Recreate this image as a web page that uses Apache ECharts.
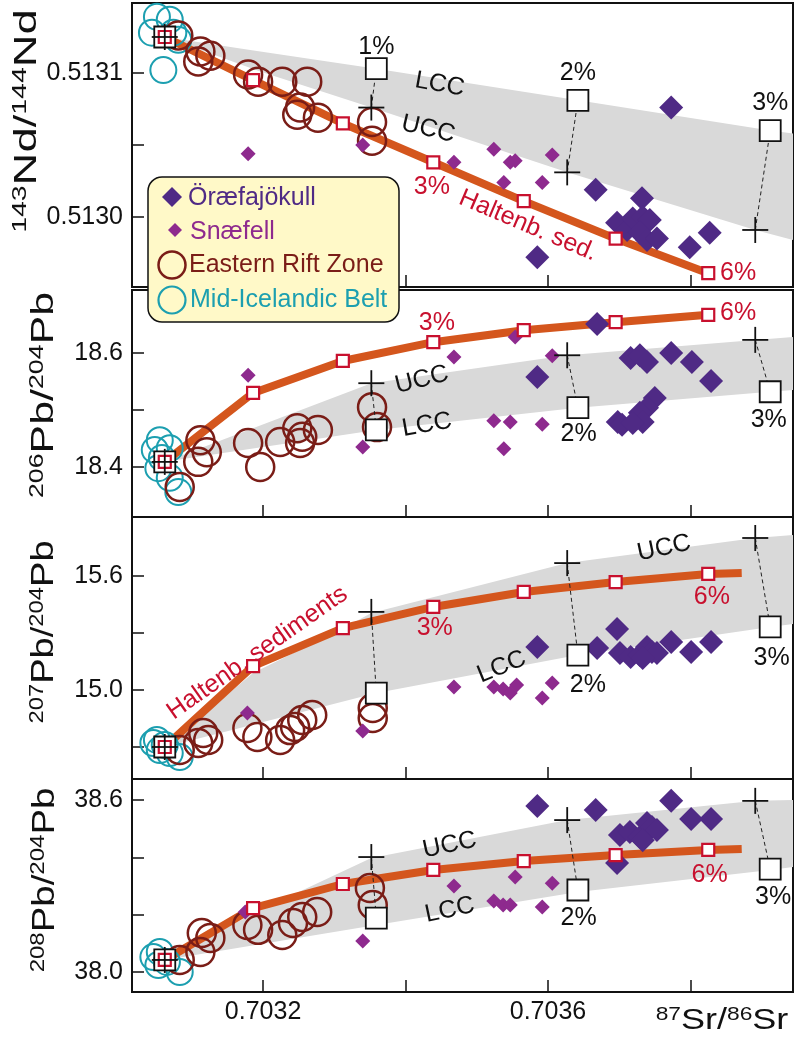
<!DOCTYPE html>
<html><head><meta charset="utf-8">
<script src="https://cdn.jsdelivr.net/npm/echarts@6/dist/echarts.min.js"></script>
<style>html,body{margin:0;padding:0;background:#fff}#c{width:796px;height:1043px}</style>
</head><body><div id="c"></div>
<script>
// ================= DATA =================
// shared x axis: 87Sr/86Sr
const X_MIN = 0.703016, X_MAX = 0.703944;
const xTicks = [0.7032, 0.7034, 0.7036, 0.7038];
const xTickLabels = [0.7032, 0.7036];

// Haltenbanken sediment mixing curve (0..6 %), UCC and LCC mixing (0..3 %)
const haltenX = [0.703062, 0.703186, 0.703312, 0.703439, 0.703566, 0.703695, 0.703825];
const haltenEndX = 0.703872;
const uccX = [0.703062, 0.703352, 0.703627, 0.703891];
const lccX = [0.703062, 0.703359, 0.703642, 0.703912];

// ---- Panel 1: 143Nd/144Nd ----
const ndRange = [0.5129514, 0.5131486];
const ndTicks = [0.5130, 0.51305, 0.5131];
const ndLabels = [0.5130, 0.5131];
const ndHalten = [0.513125, 0.513095, 0.513065, 0.513038, 0.513011, 0.512985, 0.512961];
const ndUcc = [0.513125, 0.513076, 0.513031, 0.512991];
const ndLcc = [0.513125, 0.513103, 0.513081, 0.513060];
const ndBandUpX = [0.703062, 0.703182, 0.703359, 0.703642, 0.703912, 0.703944];
const ndBandUpY = [0.513125, 0.513116, 0.513103, 0.513081, 0.513060, 0.513058];
const ndBandLoX = [0.703062, 0.703196, 0.703352, 0.703627, 0.703891, 0.703944];
const ndBandLoY = [0.513125, 0.513101, 0.513076, 0.513031, 0.512991, 0.512984];
const ndMIB = [[0.703051,0.513139],[0.703069,0.513137],[0.703044,0.513128],[0.703074,0.513128],[0.703081,0.513123],[0.703060,0.513102]];
const ndERZ = [[0.703081,0.513126],[0.703112,0.513115],[0.703109,0.513108],[0.703126,0.513112],[0.703179,0.513099],[0.703193,0.513094],[0.703227,0.513094],[0.703262,0.513094],[0.703252,0.513076],[0.703248,0.513071],[0.703277,0.513069],[0.703353,0.513066],[0.703353,0.513053]];
const ndSNA = [[0.703179,0.513044],[0.703340,0.513050],[0.703468,0.513038],[0.703524,0.513047],[0.703547,0.513038],[0.703554,0.513039],[0.703538,0.513024],[0.703592,0.513024],[0.703606,0.513043]];
const ndORA = [[0.703773,0.513076],[0.703667,0.513019],[0.703585,0.512972],[0.703732,0.513013],[0.703697,0.512996],[0.703711,0.512991],[0.703719,0.512999],[0.703733,0.513000],[0.703743,0.512998],[0.703729,0.512989],[0.703739,0.512984],[0.703753,0.512985],[0.703799,0.512979],[0.703827,0.512989]];
const ndNotes = [
  ['1%', 0.703359, 0.513118, 0, 'k'], ['2%', 0.703642, 0.513100, 0, 'k'], ['3%', 0.703912, 0.513079, 0, 'k'],
  ['LCC', 0.703448, 0.513092, -10, 'k'], ['UCC', 0.703432, 0.513061, -13, 'k'],
  ['3%', 0.703437, 0.513021, 0, 'r'], ['Haltenb. sed.', 0.703572, 0.512994, -23, 'r'], ['6%', 0.703867, 0.512961, 0, 'r']
];

// ---- Panel 2: 206Pb/204Pb ----
const pb6Range = [18.3123, 18.7105];
const pb6Ticks = [18.4, 18.5, 18.6];
const pb6Labels = [18.4, 18.6];
const pb6Halten = [18.409, 18.530, 18.586, 18.619, 18.640, 18.654, 18.667];
const pb6Ucc = [18.409, 18.547, 18.596, 18.623];
const pb6Lcc = [18.409, 18.465, 18.504, 18.532];
const pb6BandUpX = [0.703062, 0.703352, 0.703627, 0.703891, 0.703944];
const pb6BandUpY = [18.409, 18.547, 18.596, 18.623, 18.628];
const pb6BandLoX = [0.703062, 0.703359, 0.703642, 0.703912, 0.703944];
const pb6BandLoY = [18.409, 18.465, 18.504, 18.532, 18.535];
const pb6MIB = [[0.703055,18.447],[0.703048,18.430],[0.703069,18.433],[0.703058,18.416],[0.703053,18.398],[0.703069,18.381],[0.703081,18.356]];
const pb6ERZ = [[0.703112,18.447],[0.703121,18.426],[0.703109,18.409],[0.703083,18.365],[0.703179,18.442],[0.703196,18.400],[0.703224,18.444],[0.703248,18.468],[0.703255,18.453],[0.703252,18.442],[0.703277,18.465],[0.703353,18.505],[0.703360,18.470]];
const pb6SNA = [[0.703179,18.561],[0.703340,18.435],[0.703468,18.593],[0.703554,18.628],[0.703606,18.595],[0.703524,18.481],[0.703547,18.479],[0.703538,18.432],[0.703592,18.475]];
const pb6ORA = [[0.703585,18.558],[0.703669,18.651],[0.703716,18.591],[0.703729,18.596],[0.703739,18.584],[0.703773,18.600],[0.703802,18.584],[0.703829,18.551],[0.703750,18.521],[0.703739,18.504],[0.703729,18.495],[0.703733,18.479],[0.703698,18.479],[0.703704,18.474],[0.703719,18.477]];
const pb6Notes = [
  ['3%', 0.703444, 18.653, 0, 'r'], ['6%', 0.703867, 18.670, 0, 'r'],
  ['UCC', 0.703423, 18.553, 14, 'k'], ['LCC', 0.703430, 18.474, 10, 'k'],
  ['2%', 0.703643, 18.458, 0, 'k'], ['3%', 0.703910, 18.482, 0, 'k']
];

// ---- Panel 3: 207Pb/204Pb ----
const pb7Range = [14.5316, 15.9105];
const pb7Ticks = [14.7, 15.0, 15.3, 15.6];
const pb7Labels = [15.0, 15.6];
const pb7Halten = [14.700, 15.126, 15.326, 15.437, 15.516, 15.568, 15.611];
const pb7HaltenEnd = 15.616;
const pb7Ucc = [14.700, 15.411, 15.668, 15.800];
const pb7Lcc = [14.700, 14.984, 15.184, 15.332];
const pb7BandUpX = [0.703062, 0.703186, 0.703308, 0.703352, 0.703627, 0.703891, 0.703944];
const pb7BandUpY = [14.700, 15.090, 15.316, 15.405, 15.668, 15.800, 15.816];
const pb7BandLoX = [0.703062, 0.703140, 0.703359, 0.703642, 0.703912, 0.703944];
const pb7BandLoY = [14.700, 14.774, 14.984, 15.184, 15.332, 15.347];
const pb7MIB = [[0.703046,14.721],[0.703055,14.684],[0.703069,14.668],[0.703051,14.737],[0.703083,14.647],[0.703062,14.711]];
const pb7ERZ = [[0.703116,14.774],[0.703123,14.737],[0.703109,14.721],[0.703083,14.684],[0.703178,14.800],[0.703192,14.753],[0.703224,14.737],[0.703245,14.805],[0.703255,14.842],[0.703269,14.868],[0.703238,14.789],[0.703354,14.905],[0.703354,14.853]];
const pb7SNA = [[0.703178,14.879],[0.703340,14.784],[0.703468,15.016],[0.703524,15.016],[0.703537,15.005],[0.703547,14.984],[0.703556,15.026],[0.703592,14.958],[0.703606,15.037]];
const pb7ORA = [[0.703585,15.226],[0.703669,15.221],[0.703697,15.321],[0.703701,15.195],[0.703716,15.174],[0.703729,15.184],[0.703739,15.226],[0.703746,15.200],[0.703753,15.195],[0.703773,15.253],[0.703801,15.200],[0.703829,15.253],[0.703733,15.168]];
const pb7Notes = [
  ['Haltenb. sediments', 0.703192, 15.195, 35, 'r'], ['3%', 0.703441, 15.326, 0, 'r'], ['6%', 0.703830, 15.489, 0, 'r'],
  ['UCC', 0.703763, 15.747, 12, 'k'], ['LCC', 0.703535, 15.121, 22, 'k'],
  ['2%', 0.703656, 15.026, 0, 'k'], ['3%', 0.703914, 15.168, 0, 'k']
];

// ---- Panel 4: 208Pb/204Pb ----
const pb8Range = [37.9302, 38.6733];
const pb8Ticks = [38.0, 38.2, 38.4, 38.6];
const pb8Labels = [38.0, 38.6];
const pb8Halten = [38.042, 38.223, 38.307, 38.356, 38.387, 38.408, 38.426];
const pb8HaltenEnd = 38.429;
const pb8Ucc = [38.042, 38.401, 38.530, 38.597];
const pb8Lcc = [38.042, 38.188, 38.286, 38.359];
const pb8BandUpX = [0.703062, 0.703196, 0.703352, 0.703627, 0.703891, 0.703944];
const pb8BandUpY = [38.042, 38.216, 38.398, 38.530, 38.597, 38.600];
const pb8BandLoX = [0.703062, 0.703359, 0.703642, 0.703912, 0.703944];
const pb8BandLoY = [38.042, 38.164, 38.279, 38.356, 38.366];
const pb8MIB = [[0.703046,38.052],[0.703055,38.070],[0.703065,38.035],[0.703083,38.000],[0.703053,38.024]];
const pb8ERZ = [[0.703114,38.136],[0.703126,38.119],[0.703112,38.070],[0.703083,38.042],[0.703178,38.164],[0.703193,38.147],[0.703227,38.129],[0.703242,38.171],[0.703255,38.192],[0.703276,38.209],[0.703350,38.293],[0.703354,38.234]];
const pb8SNA = [[0.703175,38.209],[0.703340,38.108],[0.703468,38.300],[0.703554,38.331],[0.703606,38.310],[0.703524,38.248],[0.703537,38.234],[0.703547,38.234],[0.703592,38.227]];
const pb8ORA = [[0.703585,38.579],[0.703667,38.565],[0.703773,38.597],[0.703801,38.534],[0.703829,38.534],[0.703697,38.380],[0.703701,38.478],[0.703715,38.488],[0.703729,38.471],[0.703739,38.520],[0.703746,38.506],[0.703753,38.495],[0.703733,38.460]];
const pb8Notes = [
  ['6%', 0.703827, 38.338, 0, 'r'], ['UCC', 0.703462, 38.443, 12, 'k'], ['LCC', 0.703462, 38.216, 12, 'k'],
  ['2%', 0.703643, 38.188, 0, 'k'], ['3%', 0.703916, 38.262, 0, 'k']
];

const legendNames = ['Öræfajökull', 'Snæfell', 'Eastern Rift Zone', 'Mid-Icelandic Belt'];

// ================= STYLE / BUILD =================
const FONT = '"Liberation Sans", Arial, Helvetica, sans-serif';
const ORANGE = '#D4561D', RED = '#C8102E', GREY = '#D9D9D9', INK = '#111111';
const C_ORA = '#4F2A85', C_SNA = '#8E2A8E', C_ERZ = '#7A1D17', C_MIB = '#1C9FB0';

const panels = [
  {range: ndRange, ticks: ndTicks, labels: ndLabels, dec: 4, halten: ndHalten, end: null, ucc: ndUcc, lcc: ndLcc,
   bux: ndBandUpX, buy: ndBandUpY, blx: ndBandLoX, bly: ndBandLoY, mib: ndMIB, erz: ndERZ, sna: ndSNA, ora: ndORA, notes: ndNotes},
  {range: pb6Range, ticks: pb6Ticks, labels: pb6Labels, dec: 1, halten: pb6Halten, end: null, ucc: pb6Ucc, lcc: pb6Lcc,
   bux: pb6BandUpX, buy: pb6BandUpY, blx: pb6BandLoX, bly: pb6BandLoY, mib: pb6MIB, erz: pb6ERZ, sna: pb6SNA, ora: pb6ORA, notes: pb6Notes},
  {range: pb7Range, ticks: pb7Ticks, labels: pb7Labels, dec: 1, halten: pb7Halten, end: pb7HaltenEnd, ucc: pb7Ucc, lcc: pb7Lcc,
   bux: pb7BandUpX, buy: pb7BandUpY, blx: pb7BandLoX, bly: pb7BandLoY, mib: pb7MIB, erz: pb7ERZ, sna: pb7SNA, ora: pb7ORA, notes: pb7Notes},
  {range: pb8Range, ticks: pb8Ticks, labels: pb8Labels, dec: 1, halten: pb8Halten, end: pb8HaltenEnd, ucc: pb8Ucc, lcc: pb8Lcc,
   bux: pb8BandUpX, buy: pb8BandUpY, blx: pb8BandLoX, bly: pb8BandLoY, mib: pb8MIB, erz: pb8ERZ, sna: pb8SNA, ora: pb8ORA, notes: pb8Notes}
];

const gridBoxes = [[3, 284], [290, 227], [517, 262], [779, 213]];
const grids = gridBoxes.map(g => ({left: 132, right: 3, top: g[0], height: g[1], show: true,
  borderColor: INK, borderWidth: 2, backgroundColor: 'transparent', containLabel: false, outerBoundsMode: 'none'}));

const xAxes = panels.map((p, i) => ({
  type: 'value', gridIndex: i, min: X_MIN, max: X_MAX,
  axisLine: {show: false}, splitLine: {show: false},
  axisTick: {show: true, inside: true, length: 12, customValues: xTicks, lineStyle: {color: INK, width: 1.5}},
  axisLabel: {show: i === 3, customValues: xTickLabels, formatter: v => v.toFixed(4), fontSize: 25,
    color: INK, fontFamily: FONT, margin: 8}
}));
const yAxes = panels.map((p, i) => ({
  type: 'value', gridIndex: i, min: p.range[0], max: p.range[1],
  axisLine: {show: false}, splitLine: {show: false},
  axisTick: {show: true, inside: true, length: 12, customValues: p.ticks, lineStyle: {color: INK, width: 1.5}},
  axisLabel: {show: true, customValues: p.labels, formatter: v => v.toFixed(p.dec), fontSize: 25,
    color: INK, fontFamily: FONT, margin: 9}
}));

const series = [];
panels.forEach((p, i) => {
  const ax = {xAxisIndex: i, yAxisIndex: i, silent: true, animation: false, emphasis: {disabled: true}};
  // gray UCC-LCC envelope
  series.push(Object.assign({type: 'custom', z: 1, data: [[p.bux[0], p.buy[0]]],
    renderItem: function (params, api) {
      const pts = [];
      for (let k = 0; k < p.bux.length; k++) pts.push(api.coord([p.bux[k], p.buy[k]]));
      for (let k = p.blx.length - 1; k >= 0; k--) pts.push(api.coord([p.blx[k], p.bly[k]]));
      return {type: 'polygon', shape: {points: pts}, style: {fill: GREY}};
    }}, ax));
  // Haltenbanken mixing line
  const hl = haltenX.map((x, k) => [x, p.halten[k]]);
  if (p.end !== null) hl.push([haltenEndX, p.end]);
  series.push(Object.assign({type: 'line', z: 2, data: hl, symbol: 'none',
    lineStyle: {color: ORANGE, width: 8, join: 'round', opacity: 1}}, ax));
  // sample groups
  series.push(Object.assign({type: 'scatter', name: legendNames[3], z: 3, data: p.mib, symbol: 'circle', symbolSize: 26,
    itemStyle: {color: 'rgba(0,0,0,0)', borderColor: C_MIB, borderWidth: 2, opacity: 1}}, ax));
  series.push(Object.assign({type: 'scatter', name: legendNames[2], z: 3, data: p.erz, symbol: 'circle', symbolSize: 28,
    itemStyle: {color: 'rgba(0,0,0,0)', borderColor: C_ERZ, borderWidth: 2.5, opacity: 1}}, ax));
  series.push(Object.assign({type: 'scatter', name: legendNames[1], z: 4, data: p.sna, symbol: 'diamond', symbolSize: 15,
    itemStyle: {color: C_SNA, opacity: 1}}, ax));
  series.push(Object.assign({type: 'scatter', name: legendNames[0], z: 4, data: p.ora, symbol: 'diamond', symbolSize: 24,
    itemStyle: {color: C_ORA, opacity: 1}}, ax));
  // tie lines between UCC and LCC at equal %
  for (let k = 1; k < uccX.length; k++) {
    series.push(Object.assign({type: 'line', z: 5, symbol: 'none',
      data: [[uccX[k], p.ucc[k]], [lccX[k], p.lcc[k]]],
      lineStyle: {color: '#222', width: 1, type: [4, 3], opacity: 1}}, ax));
  }
  // LCC squares
  series.push(Object.assign({type: 'scatter', z: 6, data: lccX.map((x, k) => [x, p.lcc[k]]), symbol: 'rect', symbolSize: 21,
    itemStyle: {color: '#fff', borderColor: INK, borderWidth: 1.8, opacity: 1}}, ax));
  // Haltenbanken % markers
  series.push(Object.assign({type: 'scatter', z: 7, data: haltenX.map((x, k) => [x, p.halten[k]]), symbol: 'rect', symbolSize: 12,
    itemStyle: {color: '#fff', borderColor: RED, borderWidth: 2.2, opacity: 1}}, ax));
  // UCC crosses
  series.push(Object.assign({type: 'custom', z: 8, data: uccX.map((x, k) => [x, p.ucc[k]]),
    renderItem: function (params, api) {
      const c = api.coord([api.value(0), api.value(1)]);
      const h = 13;
      return {type: 'group', children: [
        {type: 'line', shape: {x1: c[0] - h, y1: c[1], x2: c[0] + h, y2: c[1]}, style: {stroke: INK, lineWidth: 1.8}},
        {type: 'line', shape: {x1: c[0], y1: c[1] - h, x2: c[0], y2: c[1] + h}, style: {stroke: INK, lineWidth: 1.8}}
      ]};
    }}, ax));
  // annotations
  series.push(Object.assign({type: 'scatter', z: 9, symbolSize: 1, itemStyle: {color: 'rgba(0,0,0,0)', opacity: 1},
    data: p.notes.map(n => ({value: [n[1], n[2]],
      label: {show: true, formatter: n[0], rotate: n[3], color: n[4] === 'r' ? RED : INK}})),
    label: {show: true, position: 'inside', fontSize: 25, fontFamily: FONT, align: 'center', verticalAlign: 'middle', opacity: 1}}, ax));
});

// axis titles and legend (graphic)
function rotTitle(x, y, a, b, c, d, sc) {
  return {type: 'text', x: x, y: y, rotation: Math.PI / 2, scaleX: sc, z: 100,
    style: {text: '{s|' + a + '}{b|' + b + '}{s|' + c + '}{b|' + d + '}', x: 0, y: 0,
      align: 'center', verticalAlign: 'middle', textAlign: 'center', textVerticalAlign: 'middle', fill: INK,
      rich: {s: {fontSize: 20, fontFamily: FONT, fill: INK, verticalAlign: 'top', lineHeight: 20},
             b: {fontSize: 32, fontFamily: FONT, fill: INK, lineHeight: 34}}}};
}
function legText(x, y, t, col) {
  return {type: 'text', x: x, y: y, z: 101, style: {text: t, x: 0, y: 0, font: '25px ' + FONT, fill: col,
    verticalAlign: 'middle', textVerticalAlign: 'middle', align: 'left', textAlign: 'left'}};
}
const graphic = [
  rotTitle(27, 121, '143', 'Nd/', '144', 'Nd', 1.42),
  rotTitle(44, 395, '206', 'Pb/', '204', 'Pb', 1.34),
  rotTitle(44, 632, '207', 'Pb/', '204', 'Pb', 1.19),
  rotTitle(45, 880, '208', 'Pb/', '204', 'Pb', 1.2),
  {type: 'text', x: 722, y: 1021, scaleX: 1.2, z: 100,
    style: {text: '{s|87}{b|Sr/}{s|86}{b|Sr}', x: 0, y: 0, align: 'center', verticalAlign: 'middle',
      textAlign: 'center', textVerticalAlign: 'middle', fill: INK,
      rich: {s: {fontSize: 19, fontFamily: FONT, fill: INK, verticalAlign: 'top', lineHeight: 19},
             b: {fontSize: 30, fontFamily: FONT, fill: INK, lineHeight: 32}}}},
  {type: 'rect', z: 100, shape: {x: 148, y: 177, width: 251, height: 145, r: 14},
    style: {fill: '#FFF9C8', stroke: INK, lineWidth: 1.5}},
  {type: 'polygon', z: 101, shape: {points: [[172, 187], [182, 197], [172, 207], [162, 197]]}, style: {fill: C_ORA}},
  legText(188, 198, legendNames[0], C_ORA),
  {type: 'polygon', z: 101, shape: {points: [[175, 223], [182, 230], [175, 237], [168, 230]]}, style: {fill: C_SNA}},
  legText(190, 232, legendNames[1], C_SNA),
  {type: 'circle', z: 101, shape: {cx: 172, cy: 265, r: 13.5}, style: {fill: 'none', stroke: C_ERZ, lineWidth: 2.5}},
  legText(189, 265, legendNames[2], C_ERZ),
  {type: 'circle', z: 101, shape: {cx: 172, cy: 300, r: 13.5}, style: {fill: 'none', stroke: C_MIB, lineWidth: 2.2}},
  legText(190, 300, legendNames[3], C_MIB)
];

const chart = echarts.init(document.getElementById('c'), null, {renderer: 'canvas', width: 796, height: 1043});
chart.setOption({
  animation: false,
  backgroundColor: '#fff',
  textStyle: {fontFamily: FONT},
  grid: grids, xAxis: xAxes, yAxis: yAxes, series: series, graphic: graphic
});
</script></body></html>
